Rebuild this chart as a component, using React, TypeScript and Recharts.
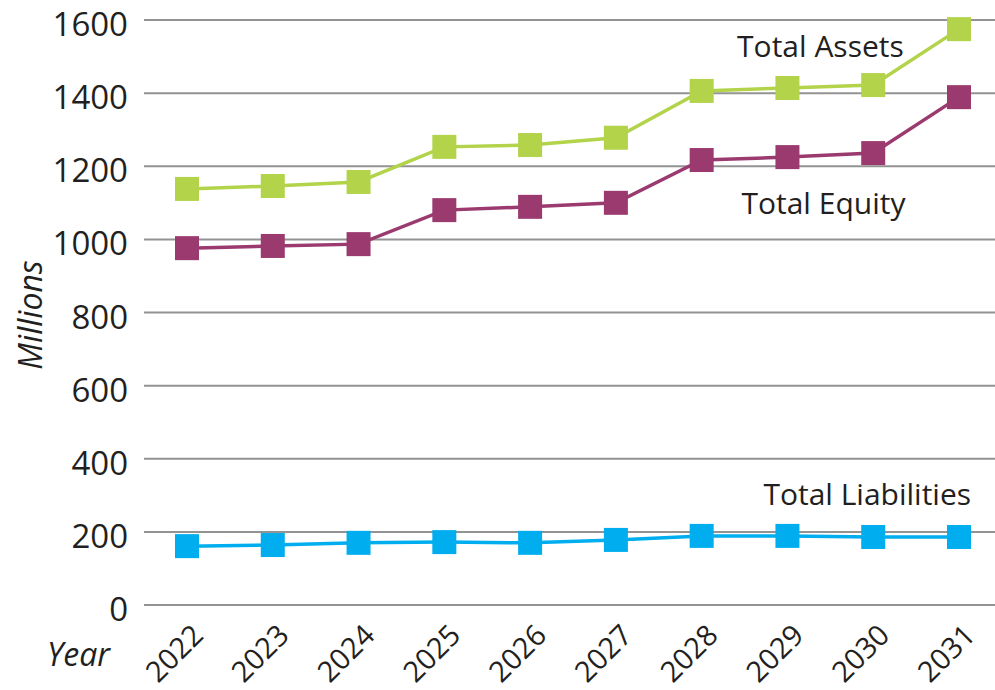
import { LineChart, Line, XAxis, YAxis, CartesianGrid, Label } from 'recharts'

const years = ['2022', '2023', '2024', '2025', '2026', '2027', '2028', '2029', '2030', '2031']
const totalAssets = [1138, 1146, 1157, 1253, 1258, 1278, 1406, 1414, 1422, 1575]
const totalEquity = [976, 982, 987, 1080, 1089, 1100, 1217, 1225, 1236, 1389]
const totalLiabilities = [161, 164, 170, 172, 170, 178, 189, 189, 186, 186]
const yTicks = [0, 200, 400, 600, 800, 1000, 1200, 1400, 1600]

const FONT = '"Open Sans", "Noto Sans", sans-serif'
const INK = '#231f20'

const data = years.map((year, i) => ({
  year,
  assets: totalAssets[i],
  equity: totalEquity[i],
  liabilities: totalLiabilities[i],
}))

function SquareDot(props: any) {
  const { cx, cy, stroke, index } = props
  if (cx == null || cy == null) return null
  return <rect key={`sq-${index}`} x={cx - 12} y={cy - 12} width={24} height={24} fill={stroke} />
}

// series name written next to one of its points
function seriesLabel(text: string, at: number, dx: number, dy: number) {
  return (props: any) => {
    const { x, y, index } = props
    if (index !== at) return null
    return (
      <text
        x={x + dx}
        y={y + dy}
        textAnchor="middle"
        dominantBaseline="central"
        fontFamily={FONT}
        fontSize={30}
        fill={INK}
      >
        {text}
      </text>
    )
  }
}

function YearTick(props: any) {
  const { x, y, payload } = props
  const tx = x + 18
  const ty = y + 24
  return (
    <text
      x={tx}
      y={ty}
      transform={`rotate(-45 ${tx} ${ty})`}
      textAnchor="end"
      fontFamily={FONT}
      fontSize={29}
      fill={INK}
    >
      {payload.value}
    </text>
  )
}

function ValueTick(props: any) {
  const { x, y, payload } = props
  return (
    <text x={x} y={y + 16} textAnchor="end" fontFamily={FONT} fontSize={33} fill={INK}>
      {payload.value}
    </text>
  )
}

export default function App() {
  return (
    <div style={{ position: 'absolute', left: 0, top: 0, width: 995, height: 690, overflow: 'hidden', background: '#fff' }}>
      <LineChart width={1010} height={690} data={data} margin={{ top: 20, right: 8, bottom: 0, left: 0 }}>
        <CartesianGrid vertical={false} stroke="#939393" strokeWidth={2} />
        <XAxis
          dataKey="year"
          axisLine={false}
          tickLine={false}
          padding={{ left: 43, right: 43 }}
          tick={<YearTick />}
          interval={0}
          height={85}
        >
          <Label
            content={(p: any) => (
              <text
                x={p.viewBox.x - 97}
                y={p.viewBox.y + 61}
                fontFamily={FONT}
                fontStyle="italic"
                fontSize={32}
                fill={INK}
              >
                Year
              </text>
            )}
          />
        </XAxis>
        <YAxis
          width={144}
          domain={[0, 1600]}
          ticks={yTicks}
          axisLine={false}
          tickLine={false}
          tickSize={0}
          tickMargin={16}
          tick={<ValueTick />}
        >
          <Label
            content={(p: any) => {
              const cx = p.viewBox.x + 42
              const cy = p.viewBox.y + 295
              return (
                <text
                  x={cx}
                  y={cy}
                  transform={`rotate(-90 ${cx} ${cy})`}
                  textAnchor="middle"
                  fontFamily={FONT}
                  fontStyle="italic"
                  fontSize={32}
                  fill={INK}
                >
                  Millions
                </text>
              )
            }}
          />
        </YAxis>
        <Line
          dataKey="assets"
          stroke="#b2d34a"
          strokeWidth={3.5}
          dot={<SquareDot />}
          activeDot={false}
          isAnimationActive={false}
          label={seriesLabel('Total Assets', 7, 33, -43)}
        />
        <Line
          dataKey="equity"
          stroke="#9b3a6f"
          strokeWidth={3.5}
          dot={<SquareDot />}
          activeDot={false}
          isAnimationActive={false}
          label={seriesLabel('Total Equity', 7, 36, 45)}
        />
        <Line
          dataKey="liabilities"
          stroke="#00aeef"
          strokeWidth={3.5}
          dot={<SquareDot />}
          activeDot={false}
          isAnimationActive={false}
          label={seriesLabel('Total Liabilities', 8, -6, -43)}
        />
      </LineChart>
    </div>
  )
}
